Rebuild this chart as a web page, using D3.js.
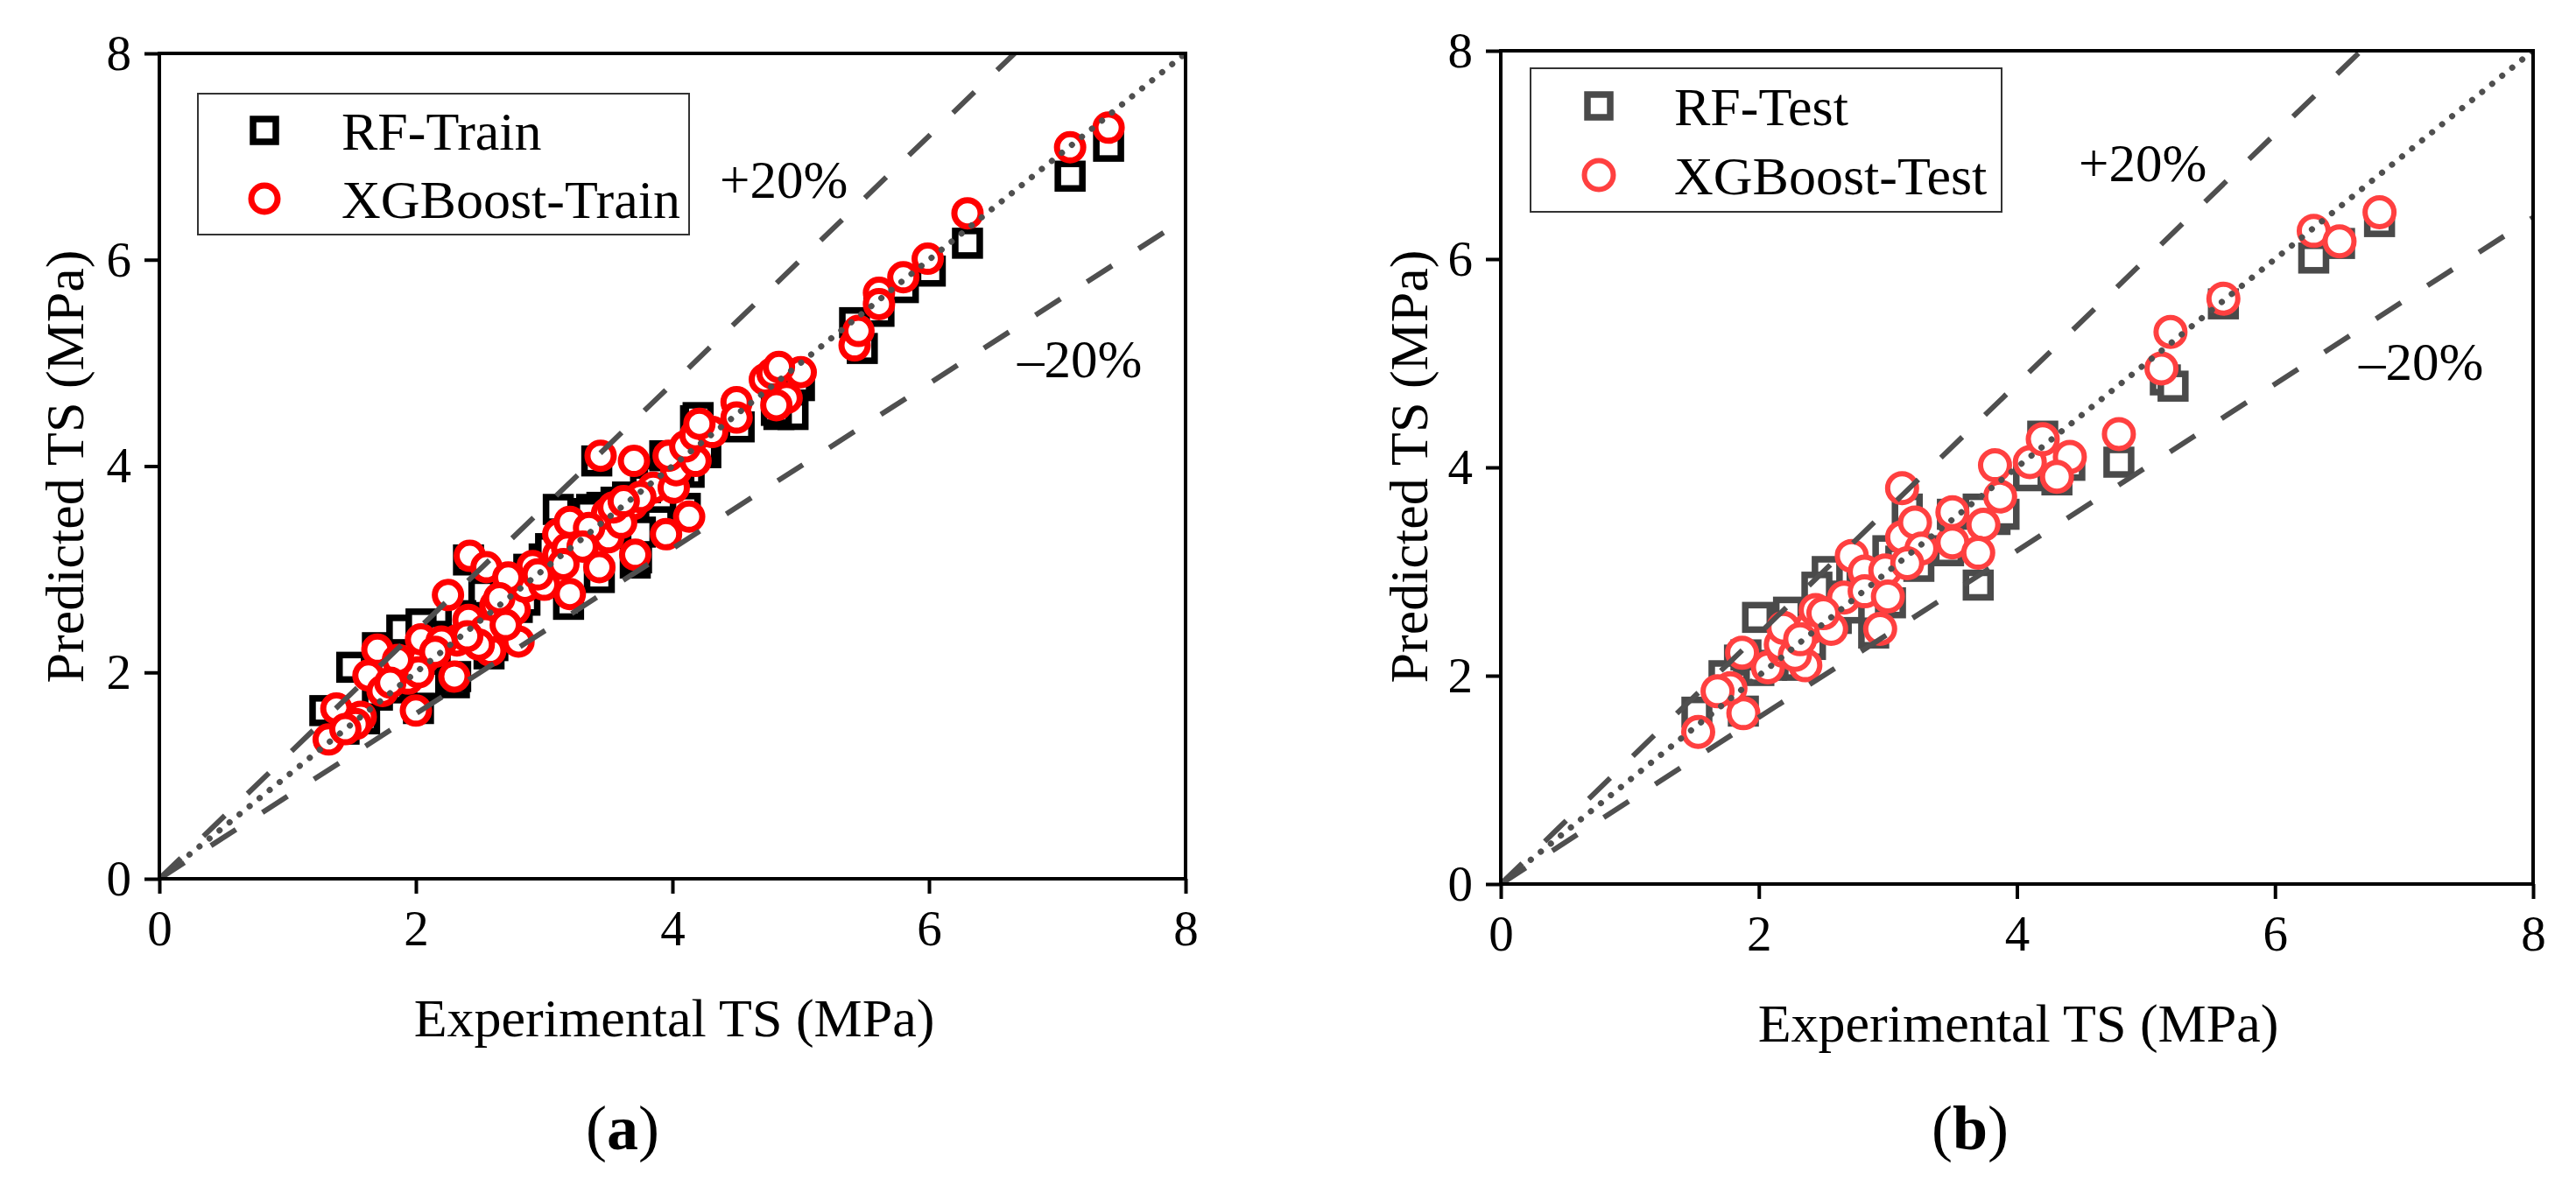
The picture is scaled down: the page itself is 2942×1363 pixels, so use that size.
<!DOCTYPE html>
<html>
<head>
<meta charset="utf-8">
<script src="https://cdn.jsdelivr.net/npm/d3@7"></script>
<style>
  body { margin: 0; background: #fff; }
  svg { display: block; font-family: "Liberation Serif", "Times New Roman", serif; }
</style>
</head>
<body>
<svg id="chart" width="2942" height="1363"></svg>
<script>
// tick values shared by both panels
const axisTicks = [0, 2, 4, 6, 8];

// [experimental, predicted] pairs
const rfTrain = [
  [1.29, 1.63], [1.50, 2.05], [1.44, 1.45], [1.70, 1.78], [1.70, 2.24], [1.89, 2.41],
  [2.04, 2.47], [2.08, 1.89], [2.02, 1.65], [2.30, 1.90], [2.31, 1.96], [2.41, 3.09],
  [2.57, 2.18], [2.60, 2.26], [2.53, 2.77], [2.79, 2.63], [2.88, 3.00], [2.92, 2.85],
  [3.19, 2.66], [3.11, 3.58], [3.37, 3.58], [3.43, 2.92], [3.45, 3.60], [3.35, 3.54],
  [3.41, 4.05], [3.71, 3.06], [3.72, 3.11], [3.56, 3.65], [3.79, 3.79], [3.89, 3.46],
  [3.75, 3.36], [3.88, 3.88], [3.94, 4.10], [4.10, 3.59], [4.13, 3.94], [4.18, 4.44],
  [4.26, 4.13], [4.23, 4.17], [4.20, 4.47], [4.52, 4.38], [4.83, 4.50], [4.94, 4.50],
  [4.81, 4.54], [4.99, 4.78], [4.97, 4.83], [5.42, 5.39], [5.48, 5.14], [5.61, 5.50],
  [5.80, 5.73], [6.01, 5.89], [6.30, 6.16], [7.10, 6.81], [7.40, 7.10], [1.60, 1.55],
  [1.80, 1.85], [2.20, 2.35], [2.45, 2.50], [2.70, 2.75], [3.00, 3.10], [3.25, 3.30],
  [3.55, 3.40], [3.65, 3.70], [4.05, 4.00], [2.15, 2.15], [1.95, 2.05], [3.05, 3.20],
  [2.35, 2.55], [2.85, 2.70]
];
const xgbTrain = [
  [1.32, 1.35], [1.38, 1.65], [1.57, 1.57], [1.53, 1.50], [1.63, 1.97], [1.70, 2.22],
  [1.74, 1.82], [1.94, 1.94], [2.00, 1.63], [2.06, 2.13], [2.04, 2.32], [2.02, 2.00],
  [1.86, 2.12], [2.25, 2.75], [2.32, 2.31], [2.30, 1.96], [2.42, 3.13], [2.41, 2.51],
  [2.55, 3.02], [2.62, 2.65], [2.58, 2.21], [2.80, 2.30], [2.77, 2.61], [2.85, 2.83],
  [2.91, 3.03], [2.72, 2.92], [2.54, 2.41], [2.70, 2.46], [2.49, 2.27], [3.11, 3.14],
  [3.20, 2.76], [3.11, 3.34], [3.18, 3.20], [3.20, 3.46], [3.44, 4.10], [3.43, 3.02],
  [3.50, 3.31], [3.49, 3.54], [3.70, 4.05], [3.71, 3.14], [3.58, 3.54], [3.69, 3.63],
  [3.95, 3.34], [4.13, 3.51], [3.85, 3.79], [4.01, 3.79], [4.03, 3.96], [3.97, 4.10],
  [4.18, 4.05], [4.10, 4.19], [4.18, 4.30], [4.31, 4.33], [4.21, 4.41], [4.50, 4.62],
  [4.50, 4.47], [4.72, 4.84], [4.78, 4.90], [4.89, 4.66], [4.81, 4.59], [5.00, 4.91],
  [4.83, 4.96], [5.42, 5.17], [5.45, 5.31], [5.61, 5.68], [5.61, 5.57], [5.80, 5.83],
  [5.99, 6.01], [6.30, 6.45], [7.10, 7.09], [7.40, 7.28], [3.00, 2.85], [2.95, 2.95],
  [3.35, 3.40], [3.60, 3.45], [3.75, 3.70], [3.30, 3.22], [3.15, 3.05], [2.40, 2.35],
  [2.20, 2.30], [1.80, 1.90], [2.15, 2.20], [1.45, 1.45], [3.54, 3.60], [3.62, 3.66],
  [2.65, 2.72]
];
const rfTest = [
  [1.52, 1.65], [1.88, 1.66], [1.99, 2.56], [2.23, 2.61], [1.85, 2.15], [1.73, 2.00],
  [2.53, 3.00], [2.45, 2.85], [3.00, 3.20], [3.15, 3.60], [3.70, 2.87], [3.83, 3.50],
  [4.09, 3.92], [4.31, 3.88], [4.41, 4.02], [4.20, 4.30], [3.47, 3.20], [3.24, 3.05],
  [2.89, 2.41], [3.02, 2.70], [3.90, 3.55], [4.79, 4.05], [5.15, 4.84], [5.21, 4.78],
  [5.60, 5.57], [6.30, 6.01], [6.50, 6.15], [6.81, 6.36], [2.10, 2.10], [2.30, 2.10],
  [2.40, 2.30], [2.60, 2.55], [2.80, 2.90], [3.10, 3.10], [3.50, 3.55], [3.70, 3.60],
  [2.20, 2.40], [2.00, 2.05], [2.70, 2.65], [3.20, 3.25], [1.90, 2.20]
];
const xgbTest = [
  [1.53, 1.46], [1.88, 1.64], [1.78, 1.88], [1.68, 1.85], [1.87, 2.22], [2.07, 2.08],
  [2.19, 2.24], [2.17, 2.30], [2.19, 2.46], [2.36, 2.10], [2.28, 2.20], [2.40, 2.46],
  [2.44, 2.63], [2.56, 2.45], [2.66, 2.75], [2.72, 3.15], [2.82, 3.00], [2.82, 2.81],
  [2.98, 3.01], [3.00, 2.76], [2.94, 2.45], [3.11, 3.80], [3.11, 3.33], [3.21, 3.47],
  [3.26, 3.22], [3.15, 3.08], [3.50, 3.57], [3.50, 3.28], [3.74, 3.45], [3.70, 3.18],
  [3.87, 3.72], [3.83, 4.02], [4.10, 4.05], [4.20, 4.27], [4.41, 4.10], [4.31, 3.91],
  [4.79, 4.32], [5.12, 4.95], [5.19, 5.30], [5.60, 5.62], [6.30, 6.27], [6.50, 6.17],
  [6.81, 6.45], [2.50, 2.60], [2.32, 2.35]
];

const seriesNames = ['RF-Train', 'XGBoost-Train', 'RF-Test', 'XGBoost-Test'];
const bandLabels = ['+20%', '\u201320%'];
const axisTitles = ['Experimental TS (MPa)', 'Predicted TS (MPa)'];
const panelLetters = ['a', 'b'];

const svg = d3.select('#chart');
const lineColor = '#4f4f4f';

const panels = [
  {
    left: 182, right: 1354, bottom: 1004, top: 61,
    rf: rfTrain, xgb: xgbTrain, rfName: seriesNames[0], xgbName: seriesNames[1],
    sqColor: '#000', sqSide: 28, sqStroke: 7.5,
    ciColor: '#ff0000', ciR: 15, ciStroke: 7,
    legend: { x: 226, y: 107, w: 561, h: 161, mx: 302, rows: [149, 227], tx: 390 },
    plus: [822, 226], minus: [1162, 431],
    xTitle: [770, 1184], yTitle: [75, 533], letter: [711, 1313]
  },
  {
    left: 1714, right: 2893, bottom: 1010, top: 58,
    rf: rfTest, xgb: xgbTest, rfName: seriesNames[2], xgbName: seriesNames[3],
    sqColor: '#4a4a4a', sqSide: 28, sqStroke: 7.5,
    ciColor: '#ff4040', ciR: 16.5, ciStroke: 6,
    legend: { x: 1748, y: 78, w: 538, h: 164, mx: 1826, rows: [121, 200], tx: 1912 },
    plus: [2374, 207], minus: [2694, 434],
    xTitle: [2305, 1190], yTitle: [1610, 533], letter: [2250, 1313]
  }
];

panels.forEach((p, i) => {
  const x = d3.scaleLinear().domain([0, 8]).range([p.left, p.right]);
  const y = d3.scaleLinear().domain([0, 8]).range([p.bottom, p.top]);
  const g = svg.append('g');

  const clipId = 'clip' + i;
  svg.append('clipPath').attr('id', clipId)
    .append('rect')
    .attr('x', p.left).attr('y', p.top)
    .attr('width', p.right - p.left).attr('height', p.bottom - p.top);

  // markers: squares first, circles on top
  g.selectAll('rect.rf')
    .data(p.rf)
    .enter()
    .append('rect')
    .attr('class', 'rf')
    .attr('x', (d) => x(d[0]) - p.sqSide / 2)
    .attr('y', (d) => y(d[1]) - p.sqSide / 2)
    .attr('width', p.sqSide)
    .attr('height', p.sqSide)
    .attr('fill', '#fff')
    .attr('stroke', p.sqColor)
    .attr('stroke-width', p.sqStroke);

  g.selectAll('circle.xgb')
    .data(p.xgb)
    .enter()
    .append('circle')
    .attr('class', 'xgb')
    .attr('cx', (d) => x(d[0]))
    .attr('cy', (d) => y(d[1]))
    .attr('r', p.ciR)
    .attr('fill', '#fff')
    .attr('stroke', p.ciColor)
    .attr('stroke-width', p.ciStroke);

  // reference lines
  const lines = g.append('g').attr('clip-path', `url(#${clipId})`);
  const line = d3.line().x((d) => x(d[0])).y((d) => y(d[1]));

  lines.append('path')
    .attr('d', line([[0, 0], [8 / 1.2, 8]]))
    .attr('fill', 'none')
    .attr('stroke', lineColor)
    .attr('stroke-width', 6)
    .attr('stroke-dasharray', '34 36');

  lines.append('path')
    .attr('d', line([[0, 0], [8, 6.4]]))
    .attr('fill', 'none')
    .attr('stroke', lineColor)
    .attr('stroke-width', 6)
    .attr('stroke-dasharray', '34 36');

  lines.append('path')
    .attr('d', line([[0, 0], [8, 8]]))
    .attr('fill', 'none')
    .attr('stroke', lineColor)
    .attr('stroke-width', 7)
    .attr('stroke-linecap', 'round')
    .attr('stroke-dasharray', '0.1 14.6');

  // frame
  g.append('rect')
    .attr('x', p.left).attr('y', p.top)
    .attr('width', p.right - p.left).attr('height', p.bottom - p.top)
    .attr('fill', 'none')
    .attr('stroke', '#000')
    .attr('stroke-width', 4);

  // axes
  const xAxis = g.append('g')
    .attr('transform', `translate(0, ${p.bottom})`)
    .call(d3.axisBottom(x).tickValues(axisTicks).tickSize(17).tickSizeOuter(0).tickPadding(19));
  const yAxis = g.append('g')
    .attr('transform', `translate(${p.left}, 0)`)
    .call(d3.axisLeft(y).tickValues(axisTicks).tickSize(17).tickSizeOuter(0).tickPadding(15));

  [xAxis, yAxis].forEach((a) => {
    a.select('.domain').remove();
    a.selectAll('line').attr('stroke', '#000').attr('stroke-width', 4);
    a.selectAll('text')
      .attr('fill', '#000')
      .style('font-family', '"Liberation Serif", serif')
      .style('font-size', '57px');
  });

  // legend
  const lg = g.append('g');
  lg.append('rect')
    .attr('x', p.legend.x).attr('y', p.legend.y)
    .attr('width', p.legend.w).attr('height', p.legend.h)
    .attr('fill', '#fff')
    .attr('stroke', '#333')
    .attr('stroke-width', 2);
  lg.append('rect')
    .attr('x', p.legend.mx - p.sqSide / 2 + 1)
    .attr('y', p.legend.rows[0] - p.sqSide / 2 + 1)
    .attr('width', p.sqSide - 2).attr('height', p.sqSide - 2)
    .attr('fill', '#fff')
    .attr('stroke', p.sqColor)
    .attr('stroke-width', p.sqStroke);
  lg.append('circle')
    .attr('cx', p.legend.mx).attr('cy', p.legend.rows[1])
    .attr('r', p.ciR)
    .attr('fill', '#fff')
    .attr('stroke', p.ciColor)
    .attr('stroke-width', p.ciStroke);
  [p.rfName, p.xgbName].forEach((name, k) => {
    lg.append('text')
      .attr('x', p.legend.tx)
      .attr('y', p.legend.rows[k])
      .attr('dy', '0.35em')
      .style('font-size', '62px')
      .text(name);
  });

  // band annotations
  g.append('text')
    .attr('x', p.plus[0]).attr('y', p.plus[1])
    .style('font-size', '61px')
    .text(bandLabels[0]);
  g.append('text')
    .attr('x', p.minus[0]).attr('y', p.minus[1])
    .style('font-size', '61px')
    .text(bandLabels[1]);

  // axis titles
  g.append('text')
    .attr('x', p.xTitle[0]).attr('y', p.xTitle[1])
    .attr('text-anchor', 'middle')
    .style('font-size', '62px')
    .text(axisTitles[0]);
  g.append('text')
    .attr('transform', `translate(${p.yTitle[0]}, ${p.yTitle[1]}) rotate(-90)`)
    .attr('text-anchor', 'middle')
    .attr('dy', '0.33em')
    .style('font-size', '62px')
    .text(axisTitles[1]);

  // panel letter
  const lt = g.append('text')
    .attr('x', p.letter[0]).attr('y', p.letter[1])
    .attr('text-anchor', 'middle')
    .style('font-size', '72px');
  lt.append('tspan').text('(');
  lt.append('tspan').attr('font-weight', 'bold').text(panelLetters[i]);
  lt.append('tspan').text(')');
});
</script>
</body>
</html>
